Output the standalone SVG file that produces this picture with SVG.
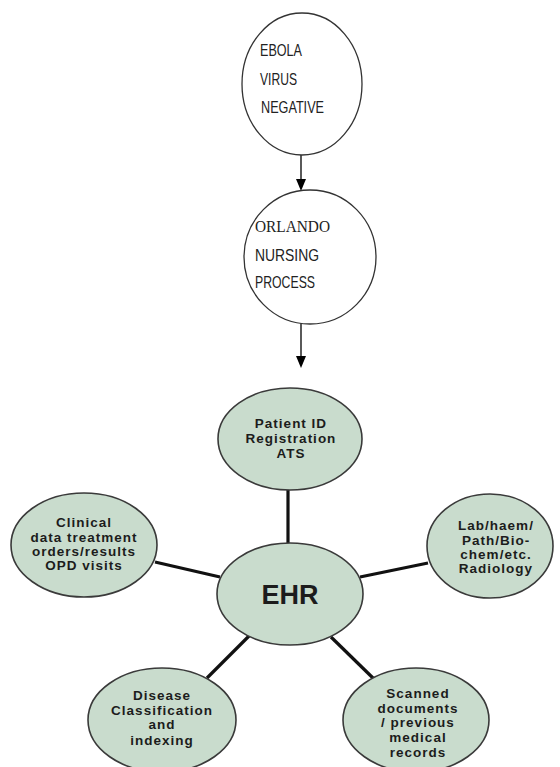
<svg xmlns="http://www.w3.org/2000/svg" width="560" height="767" viewBox="0 0 560 767">
<style>
.c{fill:#fff;stroke:#333;stroke-width:1.3}
.g{fill:#c9dccd;stroke:#3a3a3a;stroke-width:1.6}
.ts{font-family:"Liberation Sans",Arial,sans-serif;font-size:17px;fill:#222}
.tr{font-family:"Liberation Serif","Times New Roman",serif;font-size:16px;fill:#222}
.b{font-family:"Liberation Sans",Arial,sans-serif;font-weight:bold;font-size:13.5px;fill:#1c1c1c;text-anchor:middle;letter-spacing:1px}
.arr{stroke:#000;stroke-width:1.3;fill:none}
.ln{stroke:#111;stroke-width:3.2;fill:none}
.hd{fill:#000}
</style>
<g id="connectors">
<line class="arr" x1="301" y1="155" x2="301" y2="180"/>
<path class="hd" d="M296,179 L306,179 L301,191 Z"/>
<line class="arr" x1="301" y1="323" x2="301" y2="357"/>
<path class="hd" d="M296,356 L306,356 L301,368 Z"/>
<line class="ln" x1="288" y1="490" x2="288" y2="544"/>
<line class="ln" x1="155" y1="562" x2="220" y2="577"/>
<line class="ln" x1="360" y1="577" x2="428" y2="563"/>
<line class="ln" x1="207" y1="678" x2="249" y2="636"/>
<line class="ln" x1="331" y1="637" x2="374" y2="679"/>
</g>
<g id="ebola">
<ellipse class="c" cx="302" cy="84" rx="60" ry="71"/>
<text class="ts" x="260" y="56" textLength="42" lengthAdjust="spacingAndGlyphs">EBOLA</text>
<text class="ts" x="260" y="85" textLength="37" lengthAdjust="spacingAndGlyphs">VIRUS</text>
<text class="ts" x="261" y="113" textLength="63" lengthAdjust="spacingAndGlyphs">NEGATIVE</text>
</g>
<g id="orlando">
<ellipse class="c" cx="310" cy="257" rx="66" ry="67"/>
<text class="tr" x="255" y="232" textLength="75" lengthAdjust="spacingAndGlyphs">ORLANDO</text>
<text class="ts" x="255" y="261" textLength="64" lengthAdjust="spacingAndGlyphs">NURSING</text>
<text class="ts" x="255" y="288" textLength="60" lengthAdjust="spacingAndGlyphs">PROCESS</text>
</g>
<g id="patient">
<ellipse class="g" cx="290" cy="439" rx="72" ry="51"/>
<text class="b" x="291" y="428">Patient ID</text>
<text class="b" x="291" y="443">Registration</text>
<text class="b" x="291" y="458">ATS</text>
</g>
<g id="ehr">
<ellipse class="g" cx="290" cy="594" rx="73" ry="51"/>
<text x="290" y="604" text-anchor="middle" style="font-family:'Liberation Sans',Arial,sans-serif;font-weight:bold;font-size:27px;fill:#1c1c1c">EHR</text>
</g>
<g id="clinical">
<ellipse class="g" cx="84" cy="545" rx="73" ry="52"/>
<text class="b" x="84" y="527">Clinical</text>
<text class="b" x="84" y="542">data treatment</text>
<text class="b" x="84" y="556">orders/results</text>
<text class="b" x="84" y="570">OPD visits</text>
</g>
<g id="lab">
<ellipse class="g" cx="490" cy="546" rx="63" ry="52"/>
<text class="b" x="496" y="530">Lab/haem/</text>
<text class="b" x="496" y="545">Path/Bio-</text>
<text class="b" x="496" y="559">chem/etc.</text>
<text class="b" x="496" y="573">Radiology</text>
</g>
<g id="disease">
<ellipse class="g" cx="162" cy="720" rx="74" ry="52"/>
<text class="b" x="162" y="700">Disease</text>
<text class="b" x="162" y="715">Classification</text>
<text class="b" x="162" y="729">and</text>
<text class="b" x="162" y="745">indexing</text>
</g>
<g id="scanned">
<ellipse class="g" cx="416" cy="720" rx="73" ry="52"/>
<text class="b" x="418" y="698">Scanned</text>
<text class="b" x="418" y="713">documents</text>
<text class="b" x="418" y="727">/ previous</text>
<text class="b" x="418" y="742">medical</text>
<text class="b" x="418" y="757">records</text>
</g>
</svg>
